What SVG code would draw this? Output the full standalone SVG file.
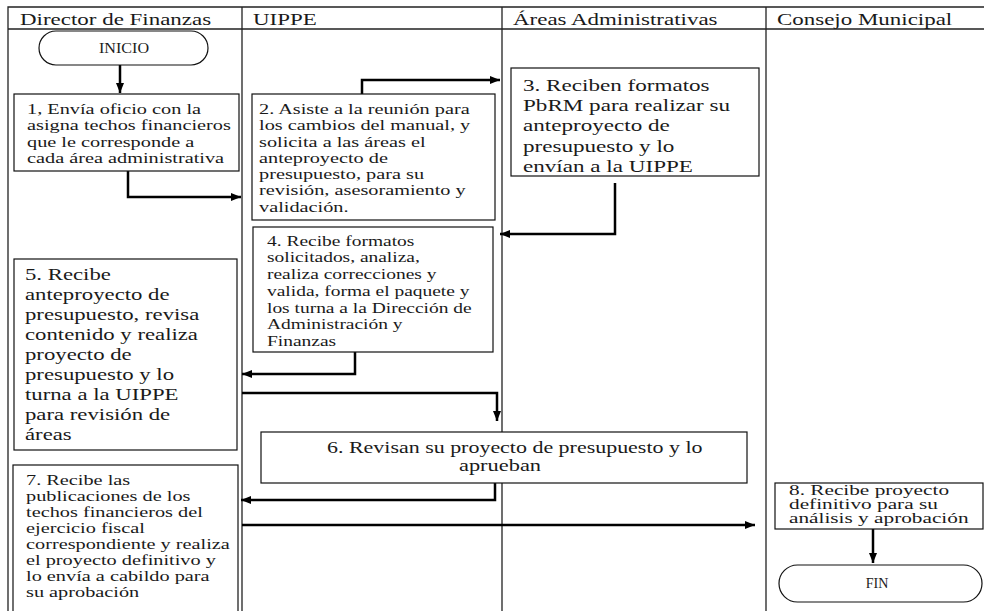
<svg xmlns="http://www.w3.org/2000/svg" width="984" height="611" viewBox="0 0 984 611">
<style>
.lane{stroke:#222;stroke-width:1.3;fill:none}
.box{fill:#fff;stroke:#111;stroke-width:1.2}
.conn{stroke:#000;stroke-width:2.5;fill:none;marker-end:url(#arr)}
text{font-family:"Liberation Serif","Times New Roman",serif;fill:#1a1a1a}
.h{font-size:17px}
.s{font-size:14px}
.l{font-size:17.5px}
.t{font-size:14px}
</style>
<defs>
<marker id="arr" markerUnits="userSpaceOnUse" markerWidth="10" markerHeight="8" refX="10" refY="4" orient="auto">
<path d="M0,0 L10,4 L0,8 z" fill="#000"/>
</marker>
</defs>
<rect width="984" height="611" fill="#fff"/>
<g id="lanes">
<path class="lane" d="M8,611 V7 H984 M8,29 H984 M242,7 V611 M502,7 V611 M766,7 V611"/>
<text class="h" transform="translate(20,25) scale(1.35,1)">Director de Finanzas</text>
<text class="h" transform="translate(253,25) scale(1.35,1)">UIPPE</text>
<text class="h" transform="translate(513,25) scale(1.35,1)">Áreas Administrativas</text>
<text class="h" transform="translate(777,25) scale(1.35,1)">Consejo Municipal</text>
</g>
<g id="connectors">
<path class="conn" d="M120,65 V93"/>
<path class="conn" d="M128,171 V197 H241"/>
<path class="conn" d="M362,94 V80 H500"/>
<path class="conn" d="M615,183 V234 H500"/>
<path class="conn" d="M355,352 V374 H242"/>
<path class="conn" d="M242,393 H497 V421"/>
<path class="conn" d="M495,483 V500 H241"/>
<path class="conn" d="M242,525 H755"/>
<path class="conn" d="M873,529 V563"/>
</g>
<g id="inicio">
<rect class="box" x="39" y="31" width="169" height="34" rx="17"/>
<text class="t" text-anchor="middle" transform="translate(124,53) scale(1.15,1)">INICIO</text>
</g>
<g id="n1">
<rect class="box" x="14" y="94" width="225" height="77"/>
<text class="s" transform="translate(27,114) scale(1.45,1)"><tspan x="0" y="0">1, Envía oficio con la</tspan><tspan x="0" y="16.3">asigna techos financieros</tspan><tspan x="0" y="32.6">que le corresponde a</tspan><tspan x="0" y="48.9">cada área administrativa</tspan></text>
</g>
<g id="n2">
<rect class="box" x="252" y="94" width="243" height="126"/>
<text class="s" transform="translate(259,114) scale(1.45,1)"><tspan x="0" y="0">2. Asiste a la reunión para</tspan><tspan x="0" y="16.3">los cambios del manual, y</tspan><tspan x="0" y="32.6">solicita a las áreas el</tspan><tspan x="0" y="48.9">anteproyecto de</tspan><tspan x="0" y="65.2">presupuesto, para su</tspan><tspan x="0" y="81.5">revisión, asesoramiento y</tspan><tspan x="0" y="97.8">validación.</tspan></text>
</g>
<g id="n3">
<rect class="box" x="511" y="68" width="248" height="108"/>
<text class="l" transform="translate(523,91) scale(1.32,1)"><tspan x="0" y="0">3. Reciben formatos</tspan><tspan x="0" y="20.2">PbRM para realizar su</tspan><tspan x="0" y="40.4">anteproyecto de</tspan><tspan x="0" y="60.6">presupuesto y lo</tspan><tspan x="0" y="80.8">envían a la UIPPE</tspan></text>
</g>
<g id="n4">
<rect class="box" x="253" y="227" width="240" height="125"/>
<text class="s" transform="translate(267,245.5) scale(1.39,1)"><tspan x="0" y="0">4. Recibe formatos</tspan><tspan x="0" y="16.8">solicitados, analiza,</tspan><tspan x="0" y="33.6">realiza correcciones y</tspan><tspan x="0" y="50.4">valida, forma el paquete y</tspan><tspan x="0" y="67.2">los turna a la Dirección de</tspan><tspan x="0" y="84">Administración y</tspan><tspan x="0" y="100.8">Finanzas</tspan></text>
</g>
<g id="n5">
<rect class="box" x="14" y="259" width="223" height="191"/>
<text class="l" transform="translate(25,280) scale(1.3,1)"><tspan x="0" y="0">5. Recibe</tspan><tspan x="0" y="20">anteproyecto de</tspan><tspan x="0" y="40">presupuesto, revisa</tspan><tspan x="0" y="60">contenido y realiza</tspan><tspan x="0" y="80">proyecto de</tspan><tspan x="0" y="100">presupuesto y lo</tspan><tspan x="0" y="120">turna a la UIPPE</tspan><tspan x="0" y="140">para revisión de</tspan><tspan x="0" y="160">áreas</tspan></text>
</g>
<g id="n6">
<rect class="box" x="261" y="432" width="486" height="51"/>
<text class="l" transform="translate(327,453) scale(1.255,1)">6. Revisan su proyecto de presupuesto y lo</text>
<text class="l" transform="translate(459,471) scale(1.28,1)">aprueban</text>
</g>
<g id="n7">
<rect class="box" x="13" y="465" width="225" height="150"/>
<text class="s" transform="translate(26,485) scale(1.45,1)"><tspan x="0" y="0">7. Recibe las</tspan><tspan x="0" y="16">publicaciones de los</tspan><tspan x="0" y="32">techos financieros del</tspan><tspan x="0" y="48">ejercicio fiscal</tspan><tspan x="0" y="64">correspondiente y realiza</tspan><tspan x="0" y="80">el proyecto definitivo y</tspan><tspan x="0" y="96">lo envía a cabildo para</tspan><tspan x="0" y="112">su aprobación</tspan></text>
</g>
<g id="n8">
<rect class="box" x="775" y="483" width="208" height="46"/>
<text class="s" transform="translate(789,495) scale(1.52,1)"><tspan x="0" y="0">8. Recibe proyecto</tspan><tspan x="0" y="14">definitivo para su</tspan><tspan x="0" y="28">análisis y aprobación</tspan></text>
</g>
<g id="fin">
<rect class="box" x="779" y="565" width="203" height="37" rx="18.5"/>
<text class="t" text-anchor="middle" transform="translate(877,588)">FIN</text>
</g>
</svg>
